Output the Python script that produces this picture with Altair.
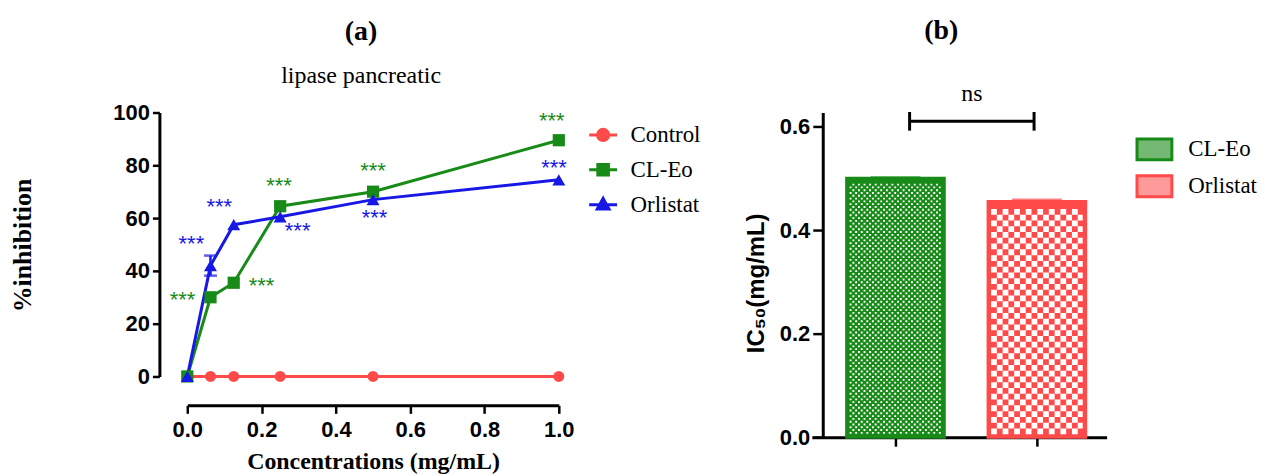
import math
import altair as alt
import pandas as pd

# ---------------- panel (a) data ----------------
conc = [0.0, 0.0625, 0.125, 0.25, 0.5, 1.0]
control = [0, 0, 0, 0, 0, 0]
cl_eo = [0, 30, 35.5, 64.5, 70, 89.5]
orlistat = [0, 42, 57.5, 60.5, 67, 74.5]
orlistat_err = [0, 3.8, 0, 0, 0, 0]
series_a = ["Control", "CL-Eo", "Orlistat"]

star_green_x = [-0.013, 0.20, 0.247, 0.50, 0.981]
star_green_y = [31, 36, 74, 79.6, 98.5]
star_blue_x = [0.011, 0.086, 0.297, 0.504, 0.987]
star_blue_y = [52, 66, 57, 62, 81]
star_label = "***"

x_ticks_a = [0, 0.2, 0.4, 0.6, 0.8, 1.0]
y_ticks_a = [0, 20, 40, 60, 80, 100]

# ---------------- panel (b) data ----------------
groups_b = ["CL-Eo", "Orlistat"]
ic50 = [0.50, 0.455]
ic50_err = [0.001, 0.003]
y_ticks_b = [0, 0.2, 0.4, 0.6]
ns_x = [1.10, 1.98]
ns_y = 0.61
ns_label = "ns"

# ---------------- styles ----------------
RED = "#ff4a4a"
GREEN = "#178a17"
BLUE = "#1818e6"
GREEN_SW = "#74b874"
RED_SW = "#ff9a9a"
SERIF = "Liberation Serif"
SANS = "Liberation Sans"

W_A, H_A = 373, 265
W_B, H_B = 296, 326
X_DOM_B = [0.4085, 2.493]
Y_DOM_B = [0, 0.627]
NO_BORDER = alt.ViewBackground(stroke="transparent", strokeWidth=0)

# ---------------- panel (a) ----------------
rows = []
for s, vals in zip(series_a, [control, cl_eo, orlistat]):
    for i, (c, v) in enumerate(zip(conc, vals)):
        e = orlistat_err[i] if s == "Orlistat" else 0
        rows.append({"series": s, "conc": c, "value": v, "lo": v - e, "hi": v + e, "err": e})
df_a = pd.DataFrame(rows)

stars = pd.DataFrame(
    [{"series": "CL-Eo", "conc": x, "value": y} for x, y in zip(star_green_x, star_green_y)]
    + [{"series": "Orlistat", "conc": x, "value": y} for x, y in zip(star_blue_x, star_blue_y)]
)

x_a = alt.X(
    "conc:Q",
    scale=alt.Scale(domain=[0, 1], nice=False, zero=False),
    axis=alt.Axis(
        values=x_ticks_a, format=".1f", title="Concentrations (mg/mL)", offset=29,
        labelFont=SANS, labelFontSize=22, labelFontWeight="bold", labelColor="black",
        titleFont=SERIF, titleFontSize=24, titleFontWeight="bold", titleColor="black",
        titlePadding=9, tickSize=8, tickWidth=2.5, domainWidth=3, domainColor="black",
        tickColor="black", labelPadding=6, grid=False, labelFlush=False,
    ),
)
y_a = alt.Y(
    "value:Q",
    scale=alt.Scale(domain=[0, 100], nice=False),
    axis=alt.Axis(
        values=y_ticks_a, title="%inhibition", offset=28,
        labelFont=SANS, labelFontSize=22, labelFontWeight="bold", labelColor="black",
        titleFont=SERIF, titleFontSize=26, titleFontWeight="bold", titleColor="black",
        titleAngle=270, titleX=-137, titleY=133, titleAlign="center", titleBaseline="middle",
        tickSize=7, tickWidth=2.5, domainWidth=3, domainColor="black", tickColor="black",
        labelPadding=3, grid=False,
    ),
)

base_a = alt.Chart(df_a).encode(x=x_a, y=y_a)
colors_a = {"Control": RED, "CL-Eo": GREEN, "Orlistat": BLUE}
layers_a = []
for s in series_a:
    layers_a.append(
        base_a.transform_filter(alt.datum.series == s).mark_line(color=colors_a[s], strokeWidth=3)
    )
# error bar
err_base = alt.Chart(df_a).transform_filter(alt.datum.err > 0)
layers_a.append(err_base.mark_rule(color=BLUE, strokeWidth=2.5).encode(x=x_a, y=alt.Y("lo:Q"), y2="hi:Q"))
layers_a.append(err_base.mark_tick(color=BLUE, orient="horizontal", size=13, thickness=2.5).encode(x=x_a, y=alt.Y("hi:Q")))
layers_a.append(err_base.mark_tick(color=BLUE, orient="horizontal", size=13, thickness=2.5).encode(x=x_a, y=alt.Y("lo:Q")))
# markers
layers_a.append(base_a.transform_filter(alt.datum.series == "Control").mark_point(shape="circle", filled=True, size=120, color=RED, opacity=1))
layers_a.append(base_a.transform_filter(alt.datum.series == "CL-Eo").mark_point(shape="square", filled=True, size=150, color=GREEN, opacity=1))
layers_a.append(base_a.transform_filter(alt.datum.series == "Orlistat").mark_point(shape="triangle-up", filled=True, size=170, color=BLUE, opacity=1))
# significance stars
for s in ["CL-Eo", "Orlistat"]:
    layers_a.append(
        alt.Chart(stars).transform_filter(alt.datum.series == s)
        .mark_text(text=star_label, font=SANS, fontSize=22, color=colors_a[s], baseline="middle", dy=5)
        .encode(x=x_a, y=y_a)
    )
# legend-only layer (clipped out of view)
path_c = "M-1,0H1M0.4,0A0.4,0.4,0,1,1,-0.4,0A0.4,0.4,0,1,1,0.4,0Z"
path_s = "M-1,0H1M-0.38,-0.38H0.38V0.38H-0.38Z"
path_t = "M-1,0H1M0,-0.45L0.42,0.32H-0.42Z"
leg_a = alt.Legend(
    title=None, orient="none", legendX=402, legendY=7, symbolSize=784, symbolStrokeWidth=3,
    labelFont=SERIF, labelFontSize=23, labelColor="black", labelOffset=12, rowPadding=7,
    labelLimit=300, symbolOpacity=1,
)
layers_a.append(
    alt.Chart(df_a).mark_point(filled=True, opacity=1, strokeWidth=3, clip=True).encode(
        x=alt.value(-200), y=alt.value(-200),
        fill=alt.Fill("series:N", scale=alt.Scale(domain=series_a, range=[RED, GREEN, BLUE]), legend=leg_a),
        stroke=alt.Stroke("series:N", scale=alt.Scale(domain=series_a, range=[RED, GREEN, BLUE]), legend=leg_a),
        shape=alt.Shape("series:N", scale=alt.Scale(domain=series_a, range=[path_c, path_s, path_t]), legend=leg_a),
    )
)

panel_a = alt.layer(*layers_a).properties(
    width=W_A, height=H_A, view=NO_BORDER,
    title=alt.TitleParams(
        "(a)", subtitle="lipase pancreatic", font=SERIF, fontSize=28, fontWeight="bold", color="black",
        subtitleFont=SERIF, subtitleFontSize=24, subtitleColor="black", subtitlePadding=18,
        offset=14, anchor="middle", frame="group", dx=-12,
    ),
)

# ---------------- panel (b) ----------------
ux = (X_DOM_B[1] - X_DOM_B[0]) / W_B  # data units per px
uy = (Y_DOM_B[1] - Y_DOM_B[0]) / H_B
half = 49 * ux
pos_b = [i + 1 for i in range(len(groups_b))]
df_b = pd.DataFrame({
    "group": groups_b, "pos": pos_b, "value": ic50, "base": [0] * len(groups_b),
    "x1": [p - half for p in pos_b], "x2": [p + half for p in pos_b],
    "cap": [v + e for v, e in zip(ic50, ic50_err)],
})

# checker pattern rows (white squares) derived from bar values
pitch_px = {"CL-Eo": 2.8, "Orlistat": 5.8}
square_px = {"CL-Eo": 1.9, "Orlistat": 5.8}
inset = 3
prow = []
for g, p, v in zip(groups_b, pos_b, ic50):
    c = pitch_px[g]
    y0 = inset * uy
    n = int(math.floor((v - 2 * inset * uy) / (c * uy)))
    for j in range(n):
        prow.append({"group": g, "par": j % 2, "y": y0 + (j + 0.5) * c * uy,
                     "x1": p - half + inset * ux, "x2": p + half - inset * ux})
df_pat = pd.DataFrame(prow)

x_b = alt.X(
    "x1:Q", scale=alt.Scale(domain=X_DOM_B, nice=False, zero=False),
    axis=alt.Axis(values=pos_b, labels=False, title=None, tickSize=9, tickWidth=2.5,
                  domainWidth=3, domainColor="black", tickColor="black", grid=False),
)
y_b = alt.Y(
    "value:Q", scale=alt.Scale(domain=Y_DOM_B, nice=False),
    axis=alt.Axis(
        values=y_ticks_b, format=".1f", title="IC\u2085\u2080(mg/mL)", offset=-11,
        labelFont=SANS, labelFontSize=22, labelFontWeight="bold", labelColor="black",
        titleFont="Liberation Sans, DejaVu Sans", titleFontSize=24, titleFontWeight="bold", titleColor="black",
        titleAngle=270, titleX=-66, titleY=171, titleAlign="center", titleBaseline="middle",
        tickSize=10, tickWidth=2.5, domainWidth=3, domainColor="black", tickColor="black",
        labelPadding=3, grid=False,
    ),
)
colors_b = {"CL-Eo": GREEN, "Orlistat": RED}
layers_b = []
for g in groups_b:
    layers_b.append(
        alt.Chart(df_b).transform_filter(alt.datum.group == g)
        .mark_bar(fill=colors_b[g], stroke=colors_b[g], strokeWidth=3)
        .encode(x=x_b, x2="x2:Q", y=y_b, y2="base:Q")
    )
for g in groups_b:
    c, sq = pitch_px[g], square_px[g]
    for par in [0, 1]:
        layers_b.append(
            alt.Chart(df_pat).transform_filter((alt.datum.group == g) & (alt.datum.par == par))
            .mark_rule(color="white", strokeWidth=sq, strokeDash=[sq, 2 * c - sq], strokeDashOffset=par * c)
            .encode(x=x_b, x2="x2:Q", y=alt.Y("y:Q"))
        )
for g in groups_b:
    layers_b.append(
        alt.Chart(df_b).transform_filter(alt.datum.group == g)
        .mark_tick(color=colors_b[g], orient="horizontal", size=50, thickness=3)
        .encode(x=alt.X("pos:Q"), y=alt.Y("cap:Q"))
    )
# legend-only layer (clipped out of view)
leg_b = alt.Legend(
    title=None, orient="none", legendX=325, legendY=18,
    symbolSize=1225, symbolStrokeWidth=3, labelFont=SERIF, labelFontSize=23, labelColor="black",
    labelOffset=15, rowPadding=1, labelLimit=300, symbolOpacity=1,
)
rect_path = "M-1,-0.6H1V0.6H-1Z"
layers_b.append(
    alt.Chart(df_b).mark_point(filled=True, opacity=1, strokeWidth=3, clip=True, shape=rect_path).encode(
        x=alt.value(-200), y=alt.value(-200),
        fill=alt.Fill("group:N", scale=alt.Scale(domain=groups_b, range=[GREEN_SW, RED_SW]), legend=leg_b),
        stroke=alt.Stroke("group:N", scale=alt.Scale(domain=groups_b, range=[GREEN, RED]), legend=leg_b),
        shape=alt.Shape("group:N", scale=alt.Scale(domain=groups_b, range=[rect_path, rect_path]), legend=leg_b),
    )
)
# ns bracket
df_ns = pd.DataFrame({"xa": [ns_x[0]], "xb": [ns_x[1]], "y": [ns_y], "lo": [ns_y - 0.018], "hi": [ns_y + 0.018],
                      "xm": [(ns_x[0] + ns_x[1]) / 2], "ty": [ns_y + 0.052]})
layers_b.append(alt.Chart(df_ns).mark_rule(color="black", strokeWidth=3).encode(x=alt.X("xa:Q"), x2="xb:Q", y=alt.Y("y:Q")))
layers_b.append(alt.Chart(df_ns).mark_rule(color="black", strokeWidth=3).encode(x=alt.X("xa:Q"), y=alt.Y("lo:Q"), y2="hi:Q"))
layers_b.append(alt.Chart(df_ns).mark_rule(color="black", strokeWidth=3).encode(x=alt.X("xb:Q"), y=alt.Y("lo:Q"), y2="hi:Q"))
layers_b.append(alt.Chart(df_ns).mark_text(text=ns_label, font=SERIF, fontSize=24, color="black", baseline="middle")
                .encode(x=alt.X("xm:Q"), y=alt.Y("ty:Q")))

panel_b = alt.layer(*layers_b).properties(
    width=W_B, height=H_B, view=NO_BORDER,
    title=alt.TitleParams("(b)", font=SERIF, fontSize=28, fontWeight="bold", color="black",
                          offset=38, anchor="middle", frame="group", dx=-18),
)

chart = (
    alt.hconcat(panel_a, panel_b, spacing=44)
    .resolve_scale(fill="independent", stroke="independent", shape="independent", color="independent")
    .resolve_legend(fill="independent", stroke="independent", shape="independent")
    .properties(padding={"left": 2, "top": 7, "right": 5, "bottom": 2})
    .configure_view(stroke="transparent", strokeWidth=0)
    .configure(background="white")
)
chart.save("out.html", embed_options={"renderer": "svg", "actions": False})
